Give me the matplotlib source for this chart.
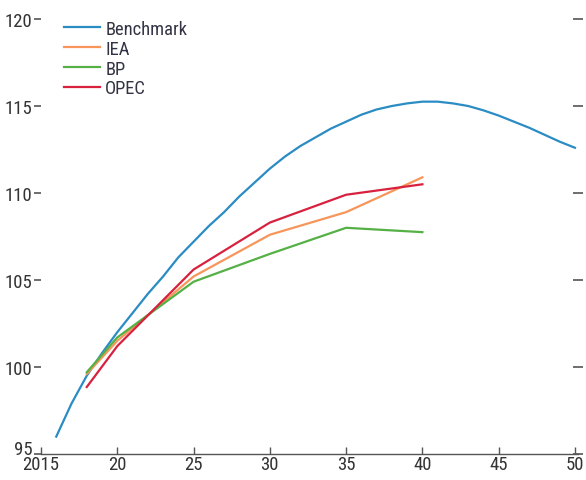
import matplotlib.pyplot as plt
import matplotlib.transforms as mtransforms

# --- data ---
bench_years = [2016, 2017, 2018, 2019, 2020, 2021, 2022, 2023, 2024, 2025,
               2026, 2027, 2028, 2029, 2030, 2031, 2032, 2033, 2034, 2035,
               2036, 2037, 2038, 2039, 2040, 2041, 2042, 2043, 2044, 2045,
               2046, 2047, 2048, 2049, 2050]
bench_vals = [96.0, 97.9, 99.5, 100.8, 102.0, 103.1, 104.2, 105.2, 106.3, 107.2,
              108.1, 108.9, 109.8, 110.6, 111.4, 112.1, 112.7, 113.2, 113.7, 114.1,
              114.5, 114.8, 115.0, 115.15, 115.25, 115.25, 115.15, 115.0, 114.75, 114.45,
              114.1, 113.75, 113.35, 112.95, 112.6]

proj_years = [2018, 2020, 2025, 2030, 2035, 2040]
iea_vals = [99.6, 101.5, 105.2, 107.6, 108.9, 110.9]
bp_vals = [99.7, 101.7, 104.9, 106.5, 108.0, 107.75]
opec_vals = [98.85, 101.2, 105.6, 108.3, 109.9, 110.5]

xticks = [2015, 2020, 2025, 2030, 2035, 2040, 2045, 2050]
xtick_labels = ['2015', '20', '25', '30', '35', '40', '45', '50']
yticks = [95, 100, 105, 110, 115, 120]

plt.rcParams['font.family'] = ['Roboto Condensed', 'DejaVu Sans']

fig = plt.figure(figsize=(5.86, 4.81), dpi=100)
ax = fig.add_axes([41 / 586, 26 / 481, 537 / 586, 435 / 481])

ax.plot(bench_years, bench_vals, color='#2b8cc4', lw=1.6, label='Benchmark')
ax.plot(proj_years, iea_vals, color='#f7955a', lw=1.6, label='IEA')
ax.plot(proj_years, bp_vals, color='#55b045', lw=1.6, label='BP')
ax.plot(proj_years, opec_vals, color='#d7213f', lw=1.6, label='OPEC')

ax.set_xlim(2015, 2050.2)
ax.set_ylim(95, 120)
ax.set_xticks(xticks)
ax.set_xticklabels(xtick_labels)
ax.set_yticks(yticks)

for s in ['top', 'right', 'left']:
    ax.spines[s].set_visible(False)
ax.spines['bottom'].set_color('#555555')
ax.spines['bottom'].set_linewidth(1.0)

ax.tick_params(axis='x', direction='in', length=5, width=1, color='#555555',
               labelsize=13.5, pad=1, labelcolor='#333333')
ax.tick_params(axis='y', direction='out', length=5, width=1.2, color='#555555',
               labelsize=13.5, pad=1, labelcolor='#333333',
               right=True, labelright=False)
# right-hand ticks straddle the frame edge
for t in ax.yaxis.get_major_ticks():
    t.tick2line.set_marker('_')
    t.tick2line.set_markersize(7)

# lift the bottom "95" so it sits above "2015"
lbl95 = ax.get_yticklabels()[0]
lbl95.set_transform(lbl95.get_transform() +
                    mtransforms.ScaledTranslation(0, 7 / 100, fig.dpi_scale_trans))

leg = ax.legend(loc='upper left', bbox_to_anchor=(0.03, 1.015), frameon=False,
                fontsize=13.3, handlelength=1.9, handletextpad=0.3,
                labelspacing=0.1, borderaxespad=0.0)
for t in leg.get_texts():
    t.set_color('#333344')

fig.savefig('out.png', dpi=100)
